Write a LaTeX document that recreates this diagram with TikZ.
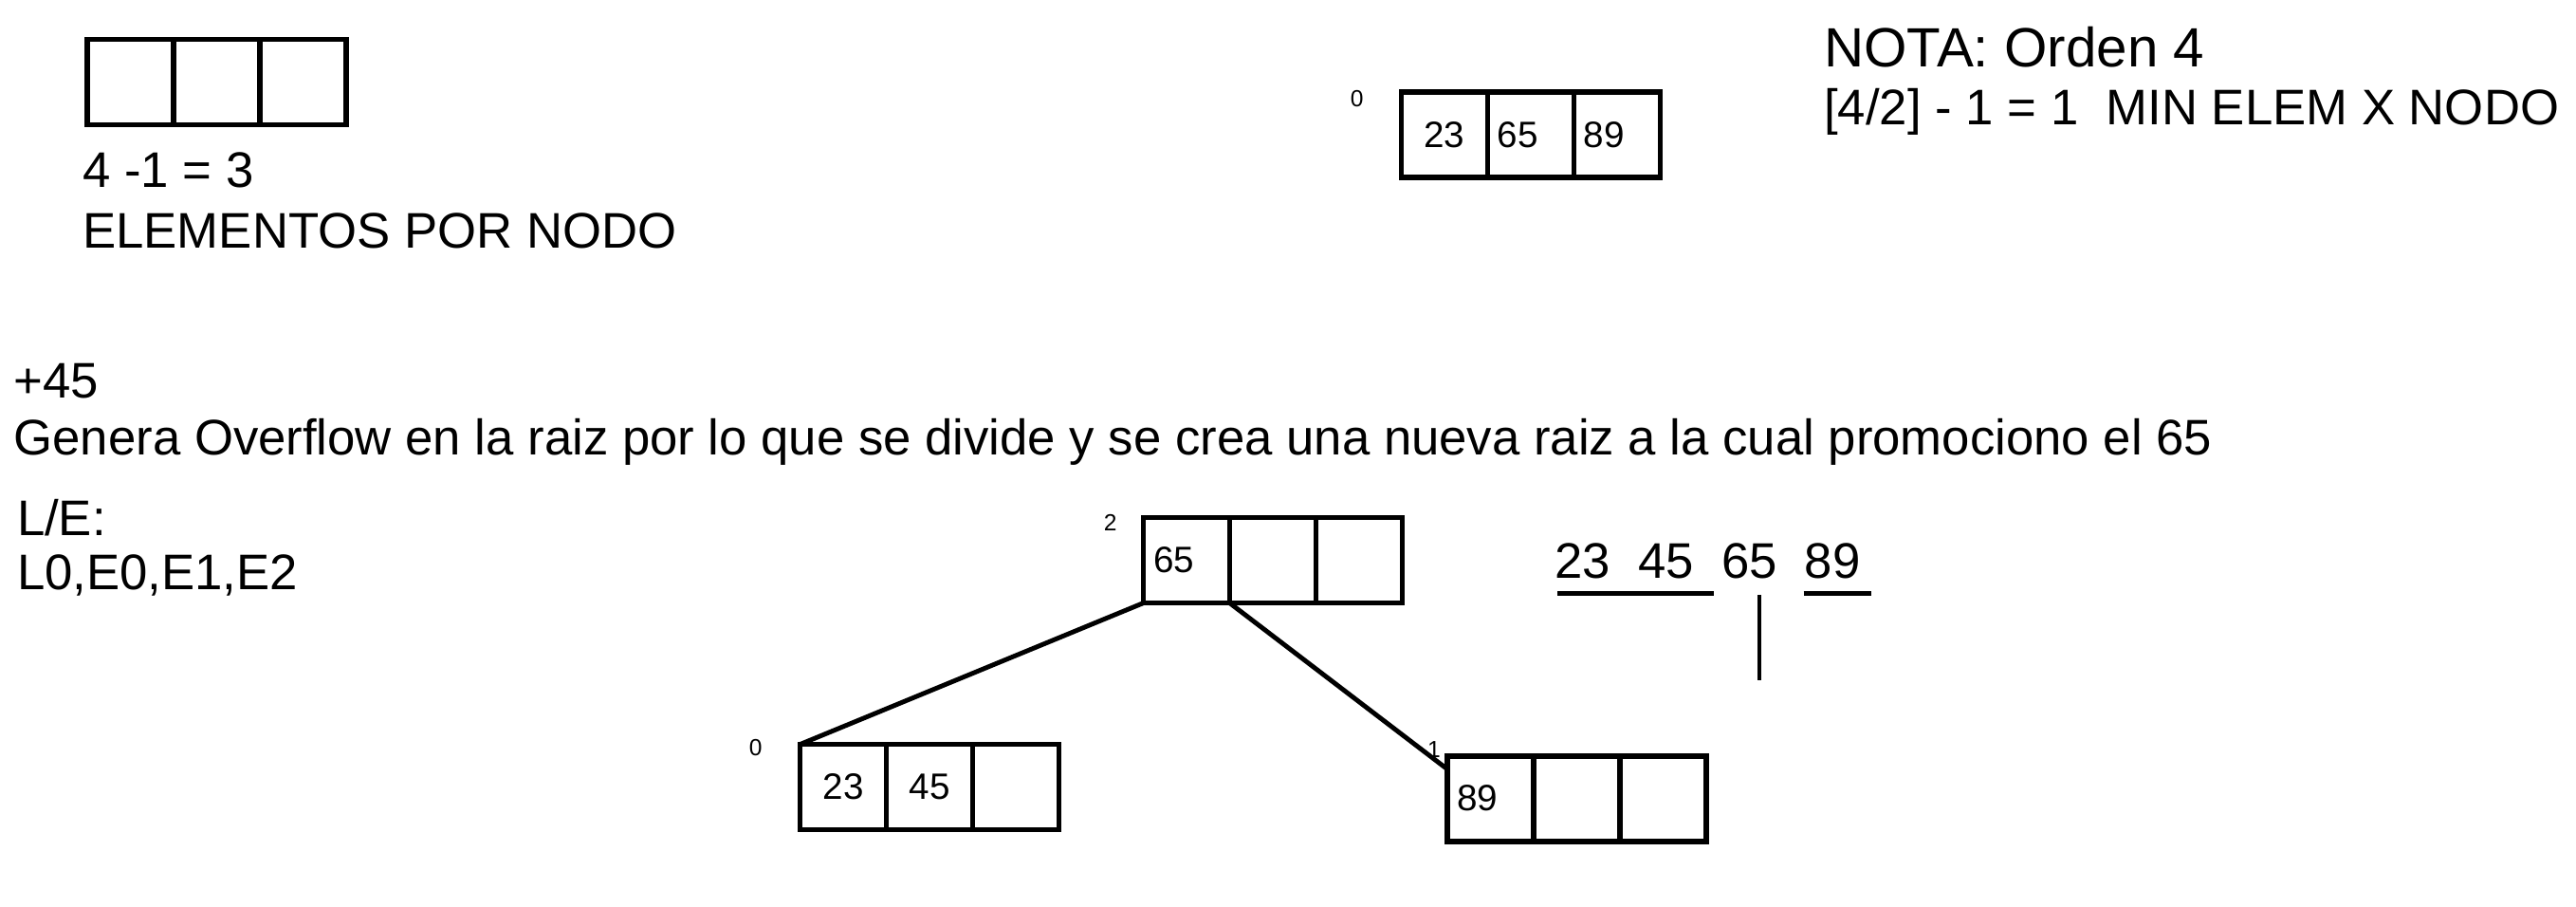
\documentclass[tikz,border=0pt]{standalone}
\usepackage{fontspec}
\setmainfont{Liberation Sans}
\begin{document}
\begin{tikzpicture}[
    cell/.style={draw, line width=1.6pt, minimum width=0.91cm, minimum height=0.9cm, inner sep=0pt, outer sep=0pt, font=\fontsize{11}{13}\selectfont},
    cellLeft/.style={cell, text width=0.7cm, align=left},
    mainText/.style={font=\fontsize{15}{18}\selectfont, inner sep=0pt},
    levelText/.style={font=\fontsize{7}{8}\selectfont, inner sep=0pt},
    link/.style={line width=1.4pt}
    ]
    \useasboundingbox (0, 0) rectangle (27.16, 9.56);

    \node[cell, anchor=north west] (empty1) at (0.918, 9.144) {};
    \node[cell, anchor=west] (empty2) at (empty1.east) {};
    \node[cell, anchor=west] (empty3) at (empty2.east) {};
    \node[mainText, anchor=base west] (formula) at (0.866, 7.586) {4 -1 = 3};
    \node[mainText, anchor=base west] (perNode) at (0.866, 6.945) {ELEMENTOS POR NODO};

    \node[cell, anchor=north west] (first1) at (14.774, 8.590) {23};
    \node[cellLeft, anchor=west] (first2) at (first1.east) {65};
    \node[cellLeft, anchor=west] (first3) at (first2.east) {89};
    \node[levelText] (firstLevel) at (14.306, 8.521) {0};

    \node[mainText, font=\fontsize{16.6}{18}\selectfont, anchor=base west] (note) at (19.225, 8.850) {NOTA: Orden 4};
    \node[mainText, anchor=base west] (minElem) at (19.225, 8.244) {[4/2] - 1 = 1\ \ MIN ELEM X NODO};

    \node[mainText, anchor=base west] (insert) at (0.139, 5.369) {+45};
    \node[mainText, anchor=base west] (overflow) at (0.139, 4.762) {Genera Overflow en la raiz por lo que se divide y se crea una nueva raiz a la cual promociono el 65};
    \node[mainText, anchor=base west] (ioTitle) at (0.173, 3.914) {L/E:};
    \node[mainText, anchor=base west] (ioList) at (0.173, 3.342) {L0,E0,E1,E2};

    \node[cellLeft, anchor=north west] (root1) at (12.055, 4.104) {65};
    \node[cell, anchor=west] (root2) at (root1.east) {};
    \node[cell, anchor=west] (root3) at (root2.east) {};
    \node[levelText] (rootLevel) at (11.708, 4.052) {2};

    \node[cell, anchor=north west] (left1) at (8.435, 1.714) {23};
    \node[cell, anchor=west] (left2) at (left1.east) {45};
    \node[cell, anchor=west] (left3) at (left2.east) {};
    \node[levelText] (leftLevel) at (7.967, 1.679) {0};

    \node[cellLeft, anchor=north west] (right1) at (15.259, 1.593) {89};
    \node[cell, anchor=west] (right2) at (right1.east) {};
    \node[cell, anchor=west] (right3) at (right2.east) {};
    \node[levelText] (rightLevel) at (15.12, 1.662) {1};

    \draw[link] (root1.south west) -- (left1.north west);
    \draw[link] (root1.south east) -- ([yshift=-0.14cm]right1.north west);

    \node[mainText, anchor=base west] (split) at (16.385, 3.463) {23\ \ 45\ \ 65\ \ 89};
    \draw[link] (16.42, 3.307) -- (18.065, 3.307);
    \draw[link] (19.017, 3.307) -- (19.727, 3.307);
    \draw[link] (18.55, 3.29) -- (18.55, 2.39);
\end{tikzpicture}
\end{document}
